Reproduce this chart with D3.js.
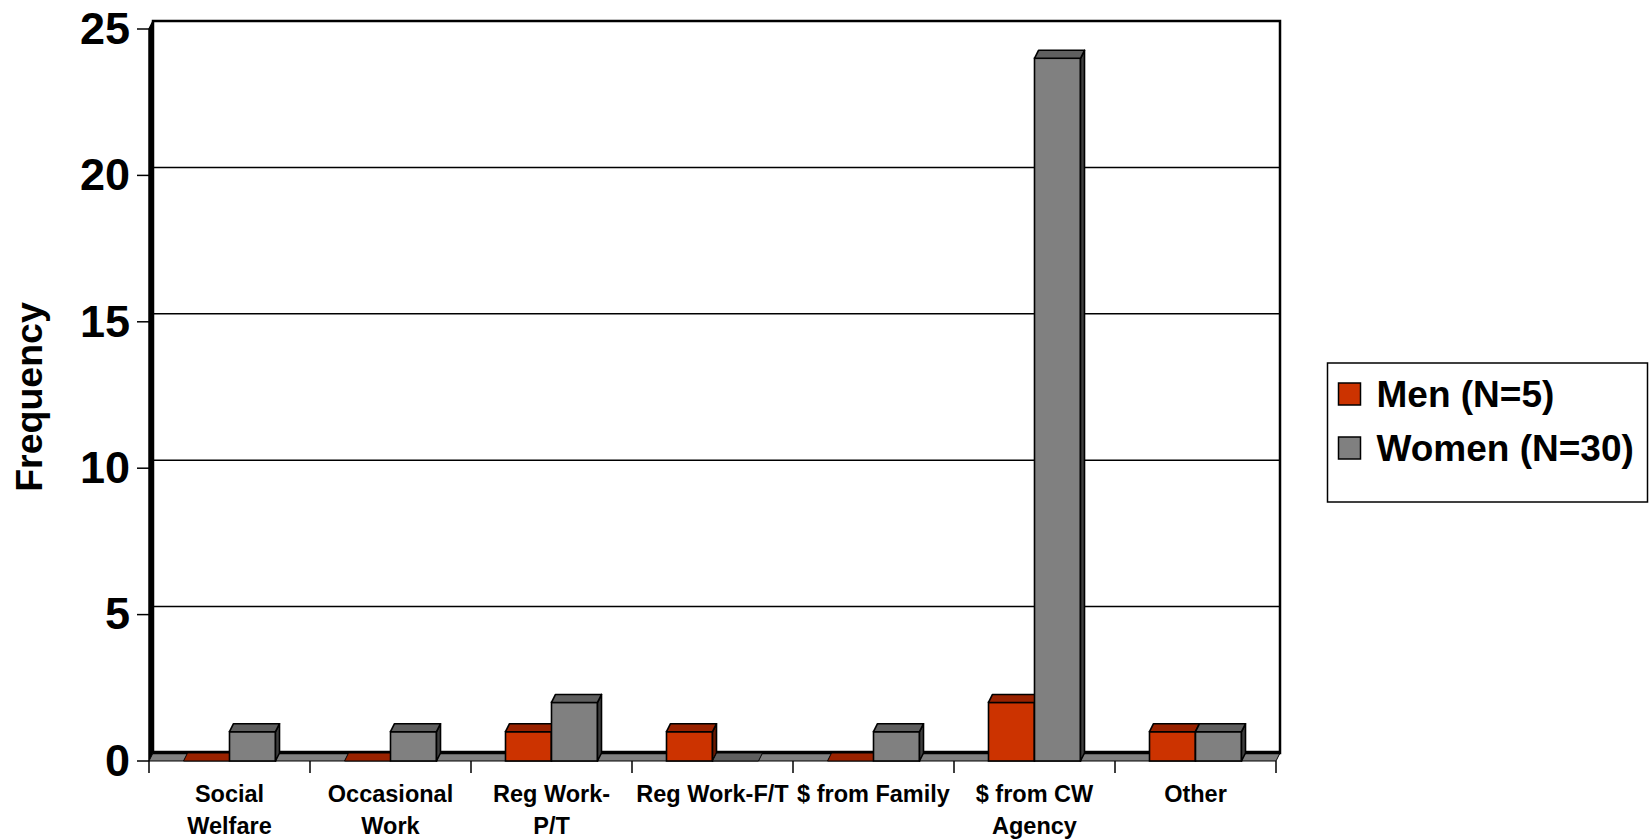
<!DOCTYPE html>
<html>
<head>
<meta charset="utf-8">
<script src="https://cdn.jsdelivr.net/npm/d3@7"></script>
<style>
  html, body { margin: 0; padding: 0; background: #ffffff; }
  svg { display: block; }
  text { font-family: "Liberation Sans", Arial, Helvetica, sans-serif; font-weight: bold; fill: #000; }
</style>
</head>
<body>
<script>
// ---- Data ----
const categories = ["Social Welfare", "Occasional Work", "Reg Work-P/T", "Reg Work-F/T", "$ from Family", "$ from CW Agency", "Other"];
const categoryLines = [["Social", "Welfare"], ["Occasional", "Work"], ["Reg Work-", "P/T"], ["Reg Work-F/T"], ["$ from Family"], ["$ from CW", "Agency"], ["Other"]];
const seriesNames = ["Men (N=5)", "Women (N=30)"];
const menValues = [0, 0, 1, 1, 0, 2, 1];
const womenValues = [1, 1, 2, 0, 1, 24, 1];
const yTickValues = [0, 5, 10, 15, 20, 25];
const yTitle = "Frequency";

// ---- Styling ----
const W = 1650, H = 840;
const faceColors = [
  { front: "#cc3300", top: "#992200", side: "#6b1800" },
  { front: "#808080", top: "#5f5f5f", side: "#3f3f3f" }
];
const DX = 4, DY = -8; // 3D depth offset

const svg = d3.select("body").append("svg").attr("width", W).attr("height", H);

const x = d3.scaleBand().domain(categories).range([149, 1276]).paddingInner(0).paddingOuter(0);
const xs = d3.scaleBand().domain([0, 1]).range([0, x.bandwidth()]).paddingInner(0).paddingOuter(0.75);
const y = d3.scaleLinear().domain([0, 25]).range([761, 29]);

const x0 = x.range()[0], x1 = x.range()[1];
const yBase = y(0), yTop = y(25);

// Back wall
svg.append("rect")
  .attr("x", x0 + DX).attr("y", yTop + DY)
  .attr("width", x1 - x0).attr("height", yBase - yTop)
  .attr("fill", "#ffffff").attr("stroke", "#000").attr("stroke-width", 2.5);

// Gridlines on back wall
svg.append("g").selectAll("line")
  .data(yTickValues.filter(v => v > 0 && v < 25))
  .join("line")
  .attr("x1", x0 + DX).attr("x2", x1 + DX)
  .attr("y1", d => y(d) + DY).attr("y2", d => y(d) + DY)
  .attr("stroke", "#000").attr("stroke-width", 1.5);

// Left side wall
svg.append("polygon")
  .attr("points", [[x0, yTop], [x0 + DX, yTop + DY], [x0 + DX, yBase + DY], [x0, yBase]].map(p => p.join(",")).join(" "))
  .attr("fill", "#000").attr("stroke", "#000").attr("stroke-width", 1.5);

// Floor
svg.append("polygon")
  .attr("points", [[x0, yBase], [x1, yBase], [x1 + DX, yBase + DY], [x0 + DX, yBase + DY]].map(p => p.join(",")).join(" "))
  .attr("fill", "#808080").attr("stroke", "#000").attr("stroke-width", 1);
svg.append("line")
  .attr("x1", x0 + DX).attr("x2", x1 + DX)
  .attr("y1", yBase + DY - 0.5).attr("y2", yBase + DY - 0.5)
  .attr("stroke", "#000").attr("stroke-width", 3.5);

// Bars
const barData = [];
categories.forEach((c, i) => {
  [menValues[i], womenValues[i]].forEach((v, s) => barData.push({ c, s, v }));
});
const pts = arr => arr.map(p => p.join(",")).join(" ");
const bars = svg.append("g").selectAll("g").data(barData).join("g");
bars.each(function (d) {
  const g = d3.select(this);
  const bx0 = x(d.c) + xs(d.s), bx1 = bx0 + xs.bandwidth();
  const yt = y(d.v), y0 = y(0);
  const col = faceColors[d.s];
  if (d.v > 0) {
    g.append("rect").attr("x", bx0).attr("y", yt).attr("width", bx1 - bx0).attr("height", y0 - yt)
      .attr("fill", col.front).attr("stroke", "#000").attr("stroke-width", 1.6);
    g.append("polygon").attr("points", pts([[bx1, yt], [bx1 + DX, yt + DY], [bx1 + DX, y0 + DY], [bx1, y0]]))
      .attr("fill", col.side).attr("stroke", "#000").attr("stroke-width", 1.6).attr("stroke-linejoin", "round");
  }
  g.append("polygon").attr("points", pts([[bx0, yt], [bx1, yt], [bx1 + DX, yt + DY], [bx0 + DX, yt + DY]]))
    .attr("fill", col.top).attr("stroke", "#000").attr("stroke-width", d.v > 0 ? 1.6 : 1).attr("stroke-linejoin", "round");
});

// Y axis ticks and labels
const yAxis = svg.append("g");
yAxis.selectAll("line").data(yTickValues).join("line")
  .attr("x1", 137).attr("x2", x0).attr("y1", d => y(d)).attr("y2", d => y(d))
  .attr("stroke", "#000").attr("stroke-width", 1.5);
yAxis.selectAll("text").data(yTickValues).join("text")
  .attr("x", 130).attr("y", d => y(d)).attr("dy", "0.33em")
  .attr("text-anchor", "end").attr("font-size", 45)
  .text(d => d);

// X axis ticks
const xTickPositions = categories.map(c => x(c)).concat([x1]);
svg.append("g").selectAll("line").data(xTickPositions).join("line")
  .attr("x1", d => d).attr("x2", d => d).attr("y1", yBase).attr("y2", yBase + 12)
  .attr("stroke", "#000").attr("stroke-width", 1.5);

// X labels
const xl = svg.append("g").selectAll("text").data(categories).join("text")
  .attr("text-anchor", "middle").attr("font-size", 23.5)
  .attr("x", c => x(c) + x.bandwidth() / 2).attr("y", 802);
xl.each(function (c, i) {
  d3.select(this).selectAll("tspan").data(categoryLines[i]).join("tspan")
    .attr("x", x(c) + x.bandwidth() / 2)
    .attr("dy", (d, j) => j === 0 ? 0 : 31.5)
    .text(d => d);
});

// Y title
svg.append("text")
  .attr("transform", "translate(42,397) rotate(-90)")
  .attr("text-anchor", "middle").attr("font-size", 37.5)
  .text(yTitle);

// Legend
const legend = svg.append("g");
legend.append("rect").attr("x", 1327.5).attr("y", 363).attr("width", 320).attr("height", 139)
  .attr("fill", "#fff").attr("stroke", "#000").attr("stroke-width", 1.5);
const li = legend.selectAll("g").data(seriesNames).join("g")
  .attr("transform", (d, i) => `translate(1338.5,${383 + i * 54})`);
li.append("rect").attr("width", 22).attr("height", 22)
  .attr("fill", (d, i) => faceColors[i].front).attr("stroke", "#000").attr("stroke-width", 1.5);
li.append("text").attr("x", 38).attr("y", 11).attr("dy", "0.36em")
  .attr("font-size", 37).text(d => d);
</script>
</body>
</html>
